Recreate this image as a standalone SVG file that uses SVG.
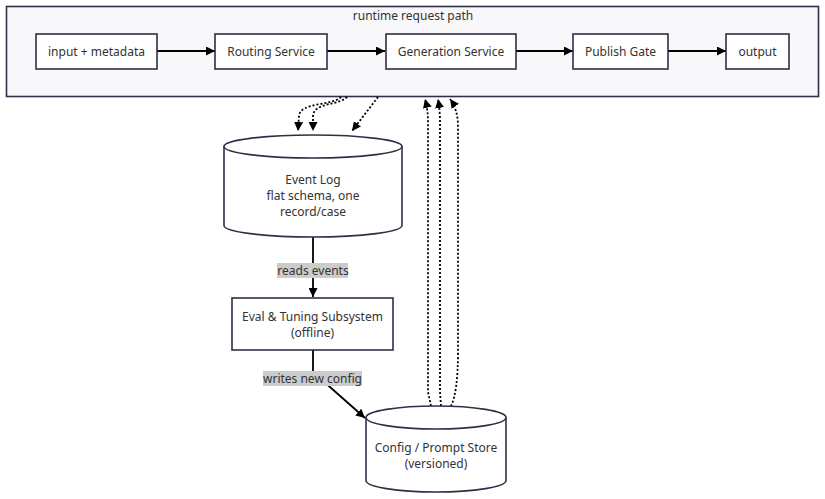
<svg xmlns="http://www.w3.org/2000/svg" width="825" height="499" viewBox="0 0 825 499">
<style>
text{font-family:"Noto Sans","Open Sans",sans-serif;font-size:12px;fill:#333;text-anchor:middle;dominant-baseline:central}
.box{fill:#fff;stroke:#2f2f45;stroke-width:1.6}
.edge{fill:none;stroke:#000;stroke-width:1.8}
.dot{fill:none;stroke:#000;stroke-width:1.8;stroke-dasharray:2,2}
.lbl{fill:#ccc}
</style>
<defs>
<marker id="ah" viewBox="0 0 10 10" refX="10" refY="5" markerWidth="9" markerHeight="9" markerUnits="userSpaceOnUse" orient="auto">
<path d="M0,0 L10,5 L0,10 z" fill="#000"/>
</marker>
</defs>
<g id="cluster">
<rect x="6.5" y="6.5" width="812" height="90" fill="#f8f8fb" stroke="#2f2f45" stroke-width="1.6"/>
<text x="413" y="15">runtime request path</text>
</g>
<g id="edges">
<path class="edge" d="M157,51 L215,51" marker-end="url(#ah)"/>
<path class="edge" d="M327,51 L385,51" marker-end="url(#ah)"/>
<path class="edge" d="M516,51 L573,51" marker-end="url(#ah)"/>
<path class="edge" d="M668,51 L726,51" marker-end="url(#ah)"/>
<path class="dot" d="M341,97 C332,106 300,102 299,116 L298,131" marker-end="url(#ah)"/>
<path class="dot" d="M347,97 C338,106 314,102 313,116 L313,131" marker-end="url(#ah)"/>
<path class="dot" d="M378,97 L352,131" marker-end="url(#ah)"/>
<path class="dot" d="M431,406 L428,392 L428,122 Q428,110 425,99" marker-end="url(#ah)"/>
<path class="dot" d="M441,406 L440,392 L440,122 Q440,110 438,99" marker-end="url(#ah)"/>
<path class="dot" d="M451,406 Q458,392 458,352 L458,126 Q458,110 450,99" marker-end="url(#ah)"/>
<path class="edge" d="M313,237 L313,297" marker-end="url(#ah)"/>
<path class="edge" d="M313,350 L313,372 L365,418" marker-end="url(#ah)"/>
<rect class="lbl" x="277" y="263" width="71" height="15"/>
<text x="313" y="270.5">reads events</text>
<rect class="lbl" x="263" y="371" width="99" height="15"/>
<text x="312.5" y="378.5">writes new config</text>
</g>
<g id="input">
<rect class="box" x="36" y="34" width="121" height="35"/>
<text x="96.5" y="51.5">input + metadata</text>
</g>
<g id="routing">
<rect class="box" x="215" y="34" width="112" height="35"/>
<text x="271" y="51.5">Routing Service</text>
</g>
<g id="generation">
<rect class="box" x="386" y="34" width="130" height="35"/>
<text x="451" y="51.5">Generation Service</text>
</g>
<g id="publish">
<rect class="box" x="573" y="34" width="95" height="35"/>
<text x="620.5" y="51.5">Publish Gate</text>
</g>
<g id="output">
<rect class="box" x="726" y="34" width="63" height="35"/>
<text x="757.5" y="51.5">output</text>
</g>
<g id="eventlog">
<path class="box" d="M224,146.5 A89,11.5 0 0 1 402,146.5 L402,225.5 A89,11.5 0 0 1 224,225.5 Z"/>
<path class="box" style="fill:none" d="M224,146.5 A89,11.5 0 0 0 402,146.5"/>
<text x="313" y="179">Event Log</text>
<text x="313" y="195">flat schema, one</text>
<text x="313" y="211">record/case</text>
</g>
<g id="eval">
<rect class="box" x="232" y="298" width="161" height="52"/>
<text x="312.5" y="316">Eval &amp; Tuning Subsystem</text>
<text x="312.5" y="332">(offline)</text>
</g>
<g id="config">
<path class="box" d="M366,417.5 A70,11.5 0 0 1 506,417.5 L506,480.5 A70,11.5 0 0 1 366,480.5 Z"/>
<path class="box" style="fill:none" d="M366,417.5 A70,11.5 0 0 0 506,417.5"/>
<text x="436" y="447">Config / Prompt Store</text>
<text x="436" y="463">(versioned)</text>
</g>
</svg>
